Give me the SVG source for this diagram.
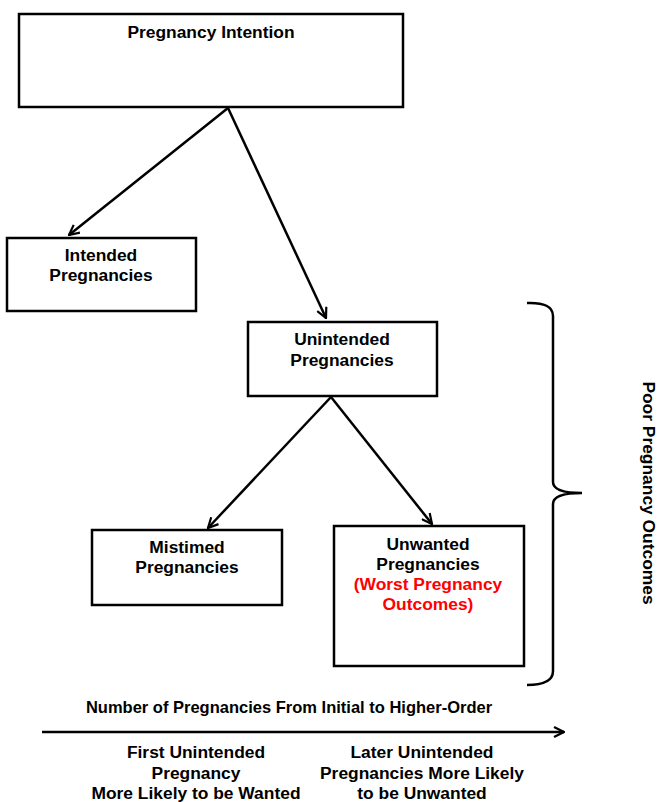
<svg xmlns="http://www.w3.org/2000/svg" width="659" height="802" viewBox="0 0 659 802">
<defs>
<style>
.box{fill:#fff;stroke:#000;stroke-width:2.5}
.t{font-family:"Liberation Sans",Arial,sans-serif;font-weight:bold;font-size:17.4px;text-anchor:middle;fill:#000}
.s{font-size:16.5px}
.red{fill:#f00}
.ln{fill:none;stroke:#000;stroke-width:2.5}
</style>
<marker id="ah" viewBox="0 0 12 12" refX="11" refY="6" markerWidth="12" markerHeight="12" markerUnits="userSpaceOnUse" orient="auto">
<path d="M1,1 L11,6 L1,11" fill="none" stroke="#000" stroke-width="2.2"/>
</marker>
</defs>
<rect width="659" height="802" fill="#fff"/>
<g id="connectors">
<line class="ln" x1="228" y1="108" x2="69" y2="235" marker-end="url(#ah)"/>
<line class="ln" x1="228" y1="108" x2="326" y2="318" marker-end="url(#ah)"/>
<line class="ln" x1="331" y1="397" x2="208" y2="528" marker-end="url(#ah)"/>
<line class="ln" x1="331" y1="397" x2="432" y2="524" marker-end="url(#ah)"/>
<line class="ln" x1="42" y1="732" x2="564" y2="732" marker-end="url(#ah)"/>
</g>
<g id="pregnancy-intention">
<rect class="box" x="19" y="14" width="384" height="93"/>
<text class="t" x="211" y="38">Pregnancy Intention</text>
</g>
<g id="intended">
<rect class="box" x="7" y="238" width="189" height="73"/>
<text class="t" x="101" y="261">Intended</text>
<text class="t" x="101" y="281">Pregnancies</text>
</g>
<g id="unintended">
<rect class="box" x="248" y="322" width="189" height="74"/>
<text class="t" x="342" y="345">Unintended</text>
<text class="t" x="342" y="366">Pregnancies</text>
</g>
<g id="mistimed">
<rect class="box" x="92" y="530" width="190" height="75"/>
<text class="t" x="187" y="553">Mistimed</text>
<text class="t" x="187" y="573">Pregnancies</text>
</g>
<g id="unwanted">
<rect class="box" x="334" y="526" width="190" height="140"/>
<text class="t" x="428" y="550">Unwanted</text>
<text class="t" x="428" y="570">Pregnancies</text>
<text class="t red" x="428" y="590">(Worst Pregnancy</text>
<text class="t red" x="428" y="610">Outcomes)</text>
</g>
<g id="brace">
<path class="ln" d="M527,303 Q553,302 553,316 L553,482 Q553,493 582,493 Q553,493 553,504 L553,671 Q553,685 527,685"/>
<text class="t" transform="translate(643,493) rotate(90)">Poor Pregnancy Outcomes</text>
</g>
<g id="axis-labels">
<text class="t s" x="289" y="713">Number of Pregnancies From Initial to Higher-Order</text>
<text class="t" x="196" y="758">First Unintended</text>
<text class="t" x="196" y="779">Pregnancy</text>
<text class="t" x="196" y="799">More Likely to be Wanted</text>
<text class="t" x="422" y="758">Later Unintended</text>
<text class="t" x="422" y="779">Pregnancies More Likely</text>
<text class="t" x="422" y="799">to be Unwanted</text>
</g>
</svg>
